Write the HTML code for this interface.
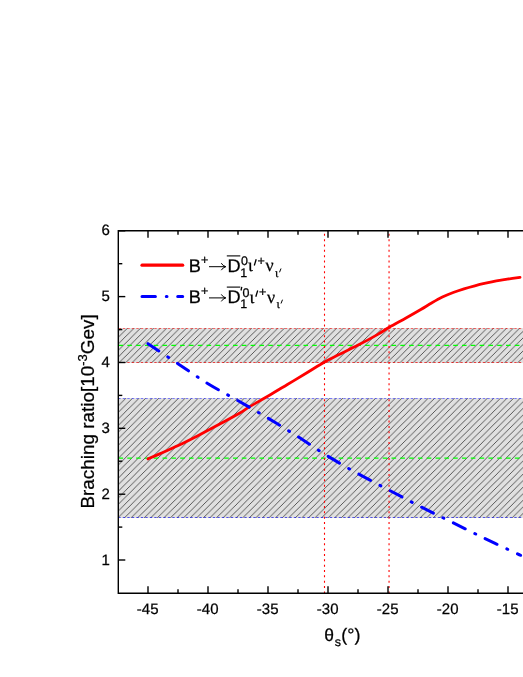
<!DOCTYPE html>
<html><head><meta charset="utf-8"><title>Branching ratio</title>
<style>
html,body{margin:0;padding:0;background:#fff;}
body{width:523px;height:677px;overflow:hidden;}
svg{display:block;will-change:transform;}
text{font-family:"Liberation Sans",sans-serif;fill:#000;stroke:#000;stroke-width:0.25px;}
text.sf{font-family:"Liberation Serif",serif;}
</style></head><body>
<svg width="523" height="677" viewBox="0 0 523 677">
<defs>
<pattern id="h" width="6.537" height="6.537" patternUnits="userSpaceOnUse" patternTransform="translate(4.58,0)">
<rect width="6.537" height="6.537" fill="#e0e0e0"/>
<path d="M-1,1 L1,-1 M0,6.537 L6.537,0 M5.537,7.537 L7.537,5.537" stroke="#101010" stroke-width="0.65"/>
</pattern>
<pattern id="h2" width="6.57" height="6.57" patternUnits="userSpaceOnUse" patternTransform="translate(5.07,0)">
<rect width="6.57" height="6.57" fill="#e0e0e0"/>
<path d="M-1,1 L1,-1 M0,6.57 L6.57,0 M5.57,7.57 L7.57,5.57" stroke="#101010" stroke-width="0.65"/>
</pattern>
</defs>
<rect width="523" height="677" fill="#fff"/>
<!-- bands -->
<rect x="118.3" y="328.1" width="406.7" height="34.8" fill="url(#h)"/>
<rect x="118.3" y="398.1" width="406.7" height="119.8" fill="url(#h2)"/>
<g fill="none" stroke-dasharray="2.4 2.1">
<path d="M118.3,328.5 H525" stroke="#ff0000" stroke-width="0.55"/>
<path d="M118.3,362.5 H525" stroke="#e80000" stroke-width="0.72"/>
<path d="M118.3,398.5 H525" stroke="#4848ff" stroke-width="0.68"/>
<path d="M118.3,517.5 H525" stroke="#1818e8" stroke-width="0.72"/>
</g>
<g fill="none" stroke="#00ff00" stroke-width="1.25" stroke-dasharray="4.6 4.207">
<path d="M118.5,345.45 H525"/>
<path d="M118.5,458.0 H525"/>
</g>
<!-- vertical dotted -->
<g fill="none" stroke="#ff0000" stroke-width="1.1" stroke-dasharray="2.0 3.337">
<path d="M324.5,233.8 V593.2"/>
<path d="M389.05,233.8 V593.2"/>
</g>
<!-- curves -->
<path d="M148.0,458.9 C149.85,458.10 154.07,456.33 159.1,454.1 C164.13,451.87 171.82,448.53 178.2,445.5 C184.58,442.47 191.02,439.18 197.4,435.9 C203.78,432.62 209.50,429.58 216.5,425.8 C223.50,422.02 233.97,416.33 239.4,413.2 C244.83,410.07 244.30,409.87 249.1,407.0 C253.90,404.13 261.82,399.75 268.2,396.0 C274.58,392.25 281.02,388.33 287.4,384.5 C293.78,380.67 300.32,376.75 306.5,373.0 C312.68,369.25 319.07,365.07 324.5,362.0 C329.93,358.93 333.48,357.42 339.1,354.6 C344.72,351.78 351.82,348.43 358.2,345.1 C364.58,341.77 372.23,337.57 377.4,334.6 C382.57,331.63 384.43,330.07 389.2,327.3 C393.97,324.53 400.73,320.97 406.0,318.0 C411.27,315.03 416.53,312.00 420.8,309.5 C425.07,307.00 428.00,305.07 431.6,303.0 C435.20,300.93 438.80,298.85 442.4,297.1 C446.00,295.35 449.60,293.88 453.2,292.5 C456.80,291.12 460.40,289.92 464.0,288.8 C467.60,287.68 471.20,286.73 474.8,285.8 C478.40,284.87 482.00,284.02 485.6,283.2 C489.20,282.38 492.80,281.57 496.4,280.9 C500.00,280.23 503.27,279.80 507.2,279.2 C511.13,278.60 517.87,277.62 520.0,277.3" fill="none" stroke="#ff0000" stroke-width="2.8" stroke-linecap="round" stroke-linejoin="round"/>
<path d="M148.0,343.7 C152.98,347.03 168.03,357.12 177.9,363.7 C187.77,370.28 197.27,377.08 207.2,383.2 C217.13,389.32 227.47,394.63 237.5,400.4 C247.53,406.17 257.52,411.87 267.4,417.8 C277.28,423.73 286.98,429.77 296.8,436.0 C306.62,442.23 316.25,449.00 326.3,455.2 C336.35,461.40 346.58,467.35 357.1,473.2 C367.62,479.05 378.75,484.68 389.4,490.3 C400.05,495.92 410.48,501.53 421.0,506.9 C431.52,512.27 441.88,517.25 452.5,522.5 C463.12,527.75 474.22,533.33 484.7,538.4 C495.18,543.47 509.42,550.08 515.4,552.9 C521.38,555.72 519.73,554.90 520.6,555.3" fill="none" stroke="#0000ff" stroke-width="3.0" stroke-linecap="round" stroke-linejoin="round" stroke-dasharray="13.2 10.62 1 10.62"/>
<!-- axes -->
<g stroke="#000" stroke-width="1.4" fill="none">
<path d="M525,230.8 H118.3 V593.2 H525"/>
<line x1="148.0" y1="593.2" x2="148.0" y2="586.2"/>
<line x1="148.0" y1="230.8" x2="148.0" y2="237.8"/>
<line x1="208.0" y1="593.2" x2="208.0" y2="586.2"/>
<line x1="208.0" y1="230.8" x2="208.0" y2="237.8"/>
<line x1="268.0" y1="593.2" x2="268.0" y2="586.2"/>
<line x1="268.0" y1="230.8" x2="268.0" y2="237.8"/>
<line x1="328.0" y1="593.2" x2="328.0" y2="586.2"/>
<line x1="328.0" y1="230.8" x2="328.0" y2="237.8"/>
<line x1="388.0" y1="593.2" x2="388.0" y2="586.2"/>
<line x1="388.0" y1="230.8" x2="388.0" y2="237.8"/>
<line x1="448.0" y1="593.2" x2="448.0" y2="586.2"/>
<line x1="448.0" y1="230.8" x2="448.0" y2="237.8"/>
<line x1="508.0" y1="593.2" x2="508.0" y2="586.2"/>
<line x1="508.0" y1="230.8" x2="508.0" y2="237.8"/>
<line x1="178.0" y1="593.2" x2="178.0" y2="589.2"/>
<line x1="178.0" y1="230.8" x2="178.0" y2="234.8"/>
<line x1="238.0" y1="593.2" x2="238.0" y2="589.2"/>
<line x1="238.0" y1="230.8" x2="238.0" y2="234.8"/>
<line x1="298.0" y1="593.2" x2="298.0" y2="589.2"/>
<line x1="298.0" y1="230.8" x2="298.0" y2="234.8"/>
<line x1="358.0" y1="593.2" x2="358.0" y2="589.2"/>
<line x1="358.0" y1="230.8" x2="358.0" y2="234.8"/>
<line x1="418.0" y1="593.2" x2="418.0" y2="589.2"/>
<line x1="418.0" y1="230.8" x2="418.0" y2="234.8"/>
<line x1="478.0" y1="593.2" x2="478.0" y2="589.2"/>
<line x1="478.0" y1="230.8" x2="478.0" y2="234.8"/>
<line x1="118.3" y1="560.0" x2="125.3" y2="560.0"/>
<line x1="118.3" y1="494.2" x2="125.3" y2="494.2"/>
<line x1="118.3" y1="428.3" x2="125.3" y2="428.3"/>
<line x1="118.3" y1="362.5" x2="125.3" y2="362.5"/>
<line x1="118.3" y1="296.6" x2="125.3" y2="296.6"/>
<line x1="118.3" y1="230.8" x2="125.3" y2="230.8"/>
<line x1="118.3" y1="527.1" x2="122.3" y2="527.1"/>
<line x1="118.3" y1="461.2" x2="122.3" y2="461.2"/>
<line x1="118.3" y1="395.4" x2="122.3" y2="395.4"/>
<line x1="118.3" y1="329.6" x2="122.3" y2="329.6"/>
<line x1="118.3" y1="263.7" x2="122.3" y2="263.7"/>
</g>
<text transform="translate(147.70,614.00) matrix(1 0 0.002 1 0 0)" font-size="15" text-anchor="middle">-45</text>
<text transform="translate(207.70,614.00) matrix(1 0 0.002 1 0 0)" font-size="15" text-anchor="middle">-40</text>
<text transform="translate(267.70,614.00) matrix(1 0 0.002 1 0 0)" font-size="15" text-anchor="middle">-35</text>
<text transform="translate(327.70,614.00) matrix(1 0 0.002 1 0 0)" font-size="15" text-anchor="middle">-30</text>
<text transform="translate(387.70,614.00) matrix(1 0 0.002 1 0 0)" font-size="15" text-anchor="middle">-25</text>
<text transform="translate(447.70,614.00) matrix(1 0 0.002 1 0 0)" font-size="15" text-anchor="middle">-20</text>
<text transform="translate(507.70,614.00) matrix(1 0 0.002 1 0 0)" font-size="15" text-anchor="middle">-15</text>
<text transform="translate(109.80,564.60) matrix(1 0 0.002 1 0 0)" font-size="15" text-anchor="end">1</text>
<text transform="translate(109.80,498.76) matrix(1 0 0.002 1 0 0)" font-size="15" text-anchor="end">2</text>
<text transform="translate(109.80,432.92) matrix(1 0 0.002 1 0 0)" font-size="15" text-anchor="end">3</text>
<text transform="translate(109.80,367.08) matrix(1 0 0.002 1 0 0)" font-size="15" text-anchor="end">4</text>
<text transform="translate(109.80,301.24) matrix(1 0 0.002 1 0 0)" font-size="15" text-anchor="end">5</text>
<text transform="translate(109.80,235.40) matrix(1 0 0.002 1 0 0)" font-size="15" text-anchor="end">6</text>
<!-- axis titles -->
<text transform="translate(324.20,641.20) matrix(1 0 0.002 1 0 0)" font-size="17.5">θ</text>
<text transform="translate(334.80,646.40) matrix(1 0 0.002 1 0 0)" font-size="12.5">s</text>
<text transform="translate(341.30,641.30) matrix(1 0 0.002 1 0 0)" font-size="18">(°)</text>
<g transform="translate(94.3,508.6) rotate(-90)">
<text x="0" y="0" font-size="18.9">Braching ratio[10<tspan dy="-6.9" font-size="13">-3</tspan><tspan dy="6.9" font-size="18.9">Gev]</tspan></text>
</g>
<!-- legend -->
<path d="M142,265.2 H182.7" stroke="#ff0000" stroke-width="3.2" stroke-linecap="round"/>
<path d="M142,296.4 H155.4 M166.3,296.4 H167 M177.7,296.4 H182.7" stroke="#0000ff" stroke-width="3.0" stroke-linecap="round"/>
<text transform="translate(188.80,271.60) matrix(1 0 0.002 1 0 0)" font-size="18.2">B</text>
<text transform="translate(200.90,263.90) matrix(1 0 0.002 1 0 0)" font-size="12.5">+</text>
<path d="M209.0,266.7 H225.5 M221.3,263.2 Q222.8,265.9 225.8,266.7 Q222.8,267.5 221.3,270.2" fill="none" stroke="#000" stroke-width="1.0"/>
<text transform="translate(227.50,271.60) matrix(1 0 0.002 1 0 0)" font-size="18.2">D</text>
<line x1="226.8" y1="255.9" x2="240.3" y2="255.9" stroke="#000" stroke-width="1.1"/>
<text transform="translate(240.90,265.40) matrix(1 0 0.002 1 0 0)" font-size="12.5">0</text>
<text transform="translate(240.30,276.70) matrix(1 0 0.002 1 0 0)" font-size="12.5">1</text>
<text transform="translate(248.10,271.30) matrix(1 0 0.002 1 0 0)" font-size="18" class="sf">ι</text>
<path d="M256.2,259.3 L254.3,265.5" stroke="#000" stroke-width="1.3" fill="none"/>
<text transform="translate(257.60,265.00) matrix(1 0 0.002 1 0 0)" font-size="12.5">+</text>
<text transform="translate(265.40,271.30) matrix(1 0 0.002 1 0 0)" font-size="18" class="sf">ν</text>
<text transform="translate(275.00,276.70) matrix(1 0 0.002 1 0 0)" font-size="12.5" class="sf">ι</text>
<path d="M281.0,268.5 L279.5,272.3" stroke="#000" stroke-width="1.0" fill="none"/>
<text transform="translate(188.80,302.80) matrix(1 0 0.002 1 0 0)" font-size="18.2">B</text>
<text transform="translate(200.90,295.10) matrix(1 0 0.002 1 0 0)" font-size="12.5">+</text>
<path d="M209.0,297.9 H225.5 M221.3,294.4 Q222.8,297.1 225.8,297.9 Q222.8,298.7 221.3,301.4" fill="none" stroke="#000" stroke-width="1.0"/>
<text transform="translate(227.50,302.80) matrix(1 0 0.002 1 0 0)" font-size="18.2">D</text>
<line x1="226.8" y1="287.1" x2="240.3" y2="287.1" stroke="#000" stroke-width="1.1"/>
<path d="M241.8,286.8 L241.0,290.5" stroke="#000" stroke-width="1.3" fill="none"/>
<text transform="translate(242.40,296.60) matrix(1 0 0.002 1 0 0)" font-size="12.5">0</text>
<text transform="translate(240.30,307.90) matrix(1 0 0.002 1 0 0)" font-size="12.5">1</text>
<text transform="translate(249.60,302.50) matrix(1 0 0.002 1 0 0)" font-size="18" class="sf">ι</text>
<path d="M257.7,290.5 L255.8,296.7" stroke="#000" stroke-width="1.3" fill="none"/>
<text transform="translate(259.10,296.20) matrix(1 0 0.002 1 0 0)" font-size="12.5">+</text>
<text transform="translate(266.90,302.50) matrix(1 0 0.002 1 0 0)" font-size="18" class="sf">ν</text>
<text transform="translate(276.50,307.90) matrix(1 0 0.002 1 0 0)" font-size="12.5" class="sf">ι</text>
<path d="M282.5,299.7 L281.0,303.5" stroke="#000" stroke-width="1.0" fill="none"/>
</svg>
</body></html>
